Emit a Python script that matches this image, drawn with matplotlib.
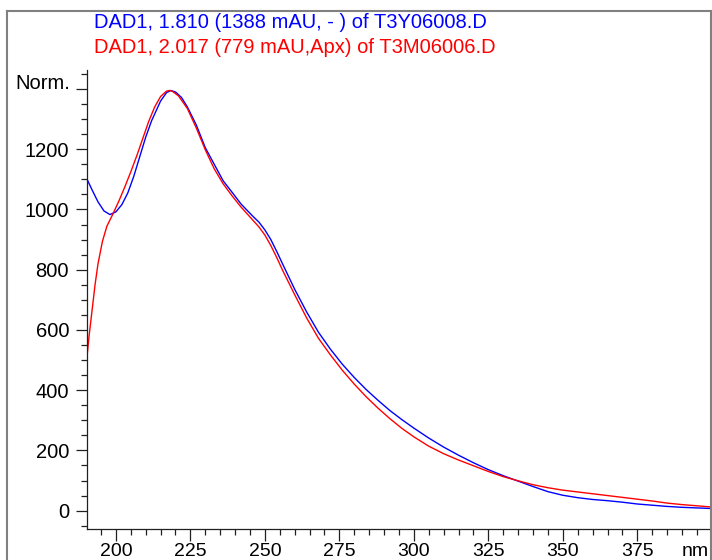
import matplotlib
matplotlib.use("Agg")
import matplotlib.pyplot as plt
from matplotlib.lines import Line2D
from matplotlib.ticker import MultipleLocator, FixedLocator

plt.rcParams['font.family'] = ['Liberation Sans', 'DejaVu Sans']

# Blue spectrum: DAD1, 1.810 of T3Y06008.D
blue_wl = [190, 192, 194, 196, 198, 200, 202, 204, 206, 208, 210, 212, 215, 217, 218.4,
           220, 222, 224, 227, 230, 233, 236, 239, 242, 246, 248, 250, 252, 254, 256, 260,
           264, 268, 272, 276, 280, 284, 288, 292, 296, 300, 305, 310, 315, 320,
           325, 330, 335, 340, 345, 350, 355, 360, 365, 370, 375, 380, 385, 390,
           395, 400]
blue_val = [1107, 1065, 1025, 995, 983, 992, 1016, 1055, 1110, 1175, 1240, 1295, 1360, 1388, 1395,
            1390, 1372, 1340, 1280, 1205, 1150, 1095, 1057, 1018, 977, 958, 932, 900, 860, 818, 735,
            660, 592, 536, 486, 442, 402, 366, 332, 302, 274, 241, 211, 184, 159,
            136, 116, 98, 80, 63, 51, 43, 37, 33, 28, 22, 18, 14, 11,
            9, 7]

# Red spectrum: DAD1, 2.017 of T3M06006.D
red_wl = [190, 191, 192, 193, 194, 195.5, 197, 199, 201, 203, 205, 207, 209, 211, 213,
          215, 217, 218, 219, 221, 224, 227, 230, 233, 236, 239, 242, 245, 248, 250, 252,
          254, 256, 260, 264, 268, 272, 276, 280, 284, 288, 292, 296, 300, 305, 310, 315,
          320, 325, 330, 335, 340, 345, 350, 355, 360, 365, 370, 375, 380, 385, 390,
          395, 400]
red_val = [481, 580, 665, 750, 820, 895, 945, 985, 1028, 1075, 1125, 1178, 1235, 1292, 1340,
           1375, 1393, 1395, 1392, 1377, 1335, 1270, 1198, 1135, 1085, 1045, 1008, 975, 942, 915, 880,
           840, 797, 717, 640, 572, 517, 466, 420, 378, 340, 305, 273, 245, 214, 189, 168,
           149, 130, 113, 99, 86, 76, 68, 62, 56, 50, 44, 38, 32, 25, 20,
           16, 12]

blue_label = "DAD1, 1.810 (1388 mAU, - ) of T3Y06008.D"
red_label = "DAD1, 2.017 (779 mAU,Apx) of T3M06006.D"
x_ticks = [200, 225, 250, 275, 300, 325, 350, 375, 400]
x_ticklabels = ["200", "225", "250", "275", "300", "325", "350", "375", ""]
y_ticks = [0, 200, 400, 600, 800, 1000, 1200, 1400]
y_ticklabels = ["0", "200", "400", "600", "800", "1000", "1200", ""]

W, H = 712, 560
fig = plt.figure(figsize=(W / 100, H / 100), dpi=100)

def fx(px):
    return px / W

def fy(py):
    return (H - py) / H

FS = 14.5
FSX = 14

ax_l, ax_r, ax_t, ax_b = 87, 711.8, 70, 529.3
ax = fig.add_axes([fx(ax_l), fy(ax_b), fx(ax_r - ax_l), (ax_b - ax_t) / H])
ax.plot(blue_wl, blue_val, color='#0000ff', lw=1.0)
ax.plot(red_wl, red_val, color='#ff0000', lw=1.0)
ax.set_xlim(190.3, 400)
ax.set_ylim(-62, 1463)

for s in ['top', 'right']:
    ax.spines[s].set_visible(False)
for s in ['left', 'bottom']:
    ax.spines[s].set_linewidth(0.9)
    ax.spines[s].set_color('#202020')

ax.xaxis.set_major_locator(FixedLocator(x_ticks))
ax.set_xticklabels(x_ticklabels)
ax.xaxis.set_minor_locator(MultipleLocator(5))
ax.yaxis.set_major_locator(FixedLocator(y_ticks))
ax.set_yticklabels(y_ticklabels)
ax.yaxis.set_minor_locator(MultipleLocator(50))

ax.tick_params(axis='x', which='major', length=8.6, width=0.9, pad=1.5, labelsize=FSX, color='#202020')
ax.tick_params(axis='x', which='minor', length=4.3, width=0.9, color='#202020')
ax.tick_params(axis='y', which='major', length=7.9, width=0.9, pad=5, labelsize=FS, color='#202020')
ax.tick_params(axis='y', which='minor', length=4.0, width=0.9, color='#202020')

# axis unit labels
fig.text(fx(70), fy(89.3), "Norm.", ha='right', va='baseline', fontsize=FS)
fig.text(fx(709), fy(556), "nm", ha='right', va='baseline', fontsize=FSX)

# legend-like titles
fig.text(fx(93.5), fy(28.3), blue_label, color='#0000ff', ha='left', va='baseline', fontsize=FS)
fig.text(fx(93.5), fy(53.3), red_label, color='#ff0000', ha='left', va='baseline', fontsize=FS)

# outer gray frame (left, top, right)
frame_kw = dict(color='#808080', lw=1.5, transform=fig.transFigure)
fig.add_artist(Line2D([fx(7), fx(7)], [fy(10.7), 0], **frame_kw))
fig.add_artist(Line2D([fx(7), fx(711)], [fy(10.7), fy(10.7)], **frame_kw))
fig.add_artist(Line2D([fx(711), fx(711)], [fy(10.7), 0], **frame_kw))

fig.savefig("out.png", dpi=100)
